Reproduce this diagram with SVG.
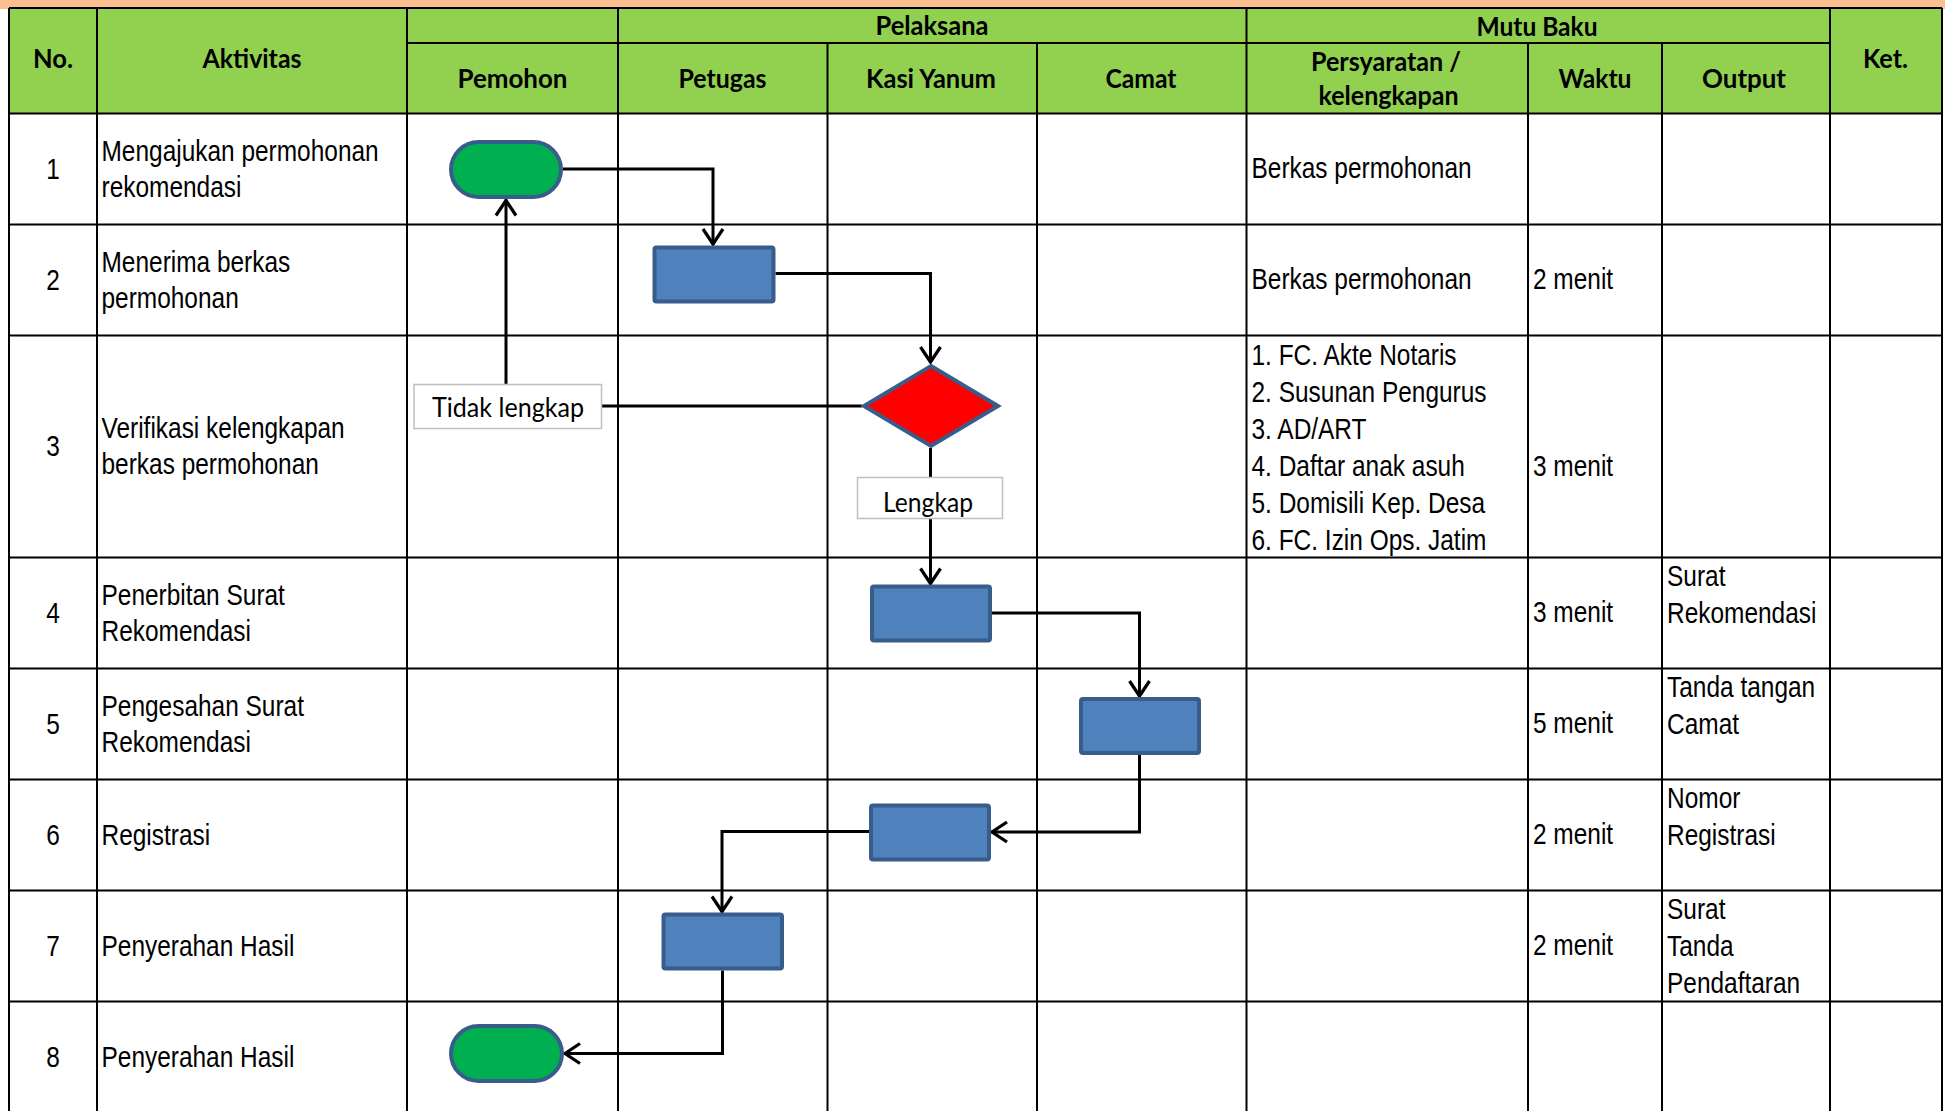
<svg xmlns="http://www.w3.org/2000/svg" width="1945" height="1111" viewBox="0 0 1945 1111">
<style>
.gl{stroke:#000;stroke-width:2;fill:none}
.hdr{font-family:Lato,'Liberation Sans',sans-serif;font-weight:700;font-size:26px;text-anchor:middle;fill:#000}
.t{font-family:'Liberation Sans',Arial,sans-serif;font-size:29px;fill:#000}
.c{text-anchor:middle}
.term{fill:#00B050;stroke:#385D8A;stroke-width:4}
.proc{fill:#4F81BD;stroke:#385D8A;stroke-width:4}
.dec{fill:#FF0000;stroke:#385D8A;stroke-width:4;stroke-linejoin:miter}
.lbl{fill:#fff;stroke:#BFBFBF;stroke-width:1.5}
.lt{font-family:Lato,'Liberation Sans',sans-serif;font-size:27px;text-anchor:middle;fill:#000}
.conn{fill:none;stroke:#000;stroke-width:3}
</style>
<defs>
<marker id="arr" markerUnits="userSpaceOnUse" markerWidth="30" markerHeight="30" refX="0" refY="0" orient="auto" overflow="visible">
<path d="M-16,-10 L-1,0 L-16,10" fill="none" stroke="#000" stroke-width="3.2" stroke-linejoin="miter"/>
</marker>
</defs>
<rect x="0" y="0" width="1945" height="1111" fill="#fff"/>
<rect x="0" y="0" width="1945" height="9" fill="#FAC090"/>
<rect x="9" y="8" width="1933" height="105.5" fill="#92D050"/>

<g id="grid">
<path class="gl" d="M9,8 H1942 M407,43 H1830 M9,113.5 H1942 M9,224.5 H1942 M9,335.5 H1942 M9,557.5 H1942 M9,668.5 H1942 M9,779.5 H1942 M9,890.5 H1942 M9,1001.5 H1942"/>
<path class="gl" d="M9,8 V1111 M97,8 V1111 M407,8 V1111 M618,8 V1111 M1246.5,8 V1111 M1830,8 V1111 M1942,8 V1111 M827.5,43 V1111 M1037,43 V1111 M1528,43 V1111 M1662,43 V1111"/>
</g>

<g id="header">
<text class="hdr" x="53" y="68" textLength="40" lengthAdjust="spacingAndGlyphs">No.</text>
<text class="hdr" x="252" y="68" textLength="99" lengthAdjust="spacingAndGlyphs">Aktivitas</text>
<text class="hdr" x="932" y="35" textLength="113" lengthAdjust="spacingAndGlyphs">Pelaksana</text>
<text class="hdr" x="1537" y="36" textLength="121" lengthAdjust="spacingAndGlyphs">Mutu Baku</text>
<text class="hdr" x="512.5" y="88" textLength="110" lengthAdjust="spacingAndGlyphs">Pemohon</text>
<text class="hdr" x="722.5" y="88" textLength="88" lengthAdjust="spacingAndGlyphs">Petugas</text>
<text class="hdr" x="931" y="88" textLength="130" lengthAdjust="spacingAndGlyphs">Kasi Yanum</text>
<text class="hdr" x="1141" y="88" textLength="71" lengthAdjust="spacingAndGlyphs">Camat</text>
<text class="hdr" x="1386" y="71" textLength="150" lengthAdjust="spacingAndGlyphs">Persyaratan /</text>
<text class="hdr" x="1388.5" y="105" textLength="140" lengthAdjust="spacingAndGlyphs">kelengkapan</text>
<text class="hdr" x="1595" y="88" textLength="73" lengthAdjust="spacingAndGlyphs">Waktu</text>
<text class="hdr" x="1744" y="88" textLength="84" lengthAdjust="spacingAndGlyphs">Output</text>
<text class="hdr" x="1885.5" y="68" textLength="45" lengthAdjust="spacingAndGlyphs">Ket.</text>
</g>

<g id="cells" transform="scale(0.843,1)">
<text class="t c" x="62.9" y="179">1</text>
<text class="t c" x="62.9" y="290">2</text>
<text class="t c" x="62.9" y="456.5">3</text>
<text class="t c" x="62.9" y="623">4</text>
<text class="t c" x="62.9" y="734">5</text>
<text class="t c" x="62.9" y="845">6</text>
<text class="t c" x="62.9" y="956">7</text>
<text class="t c" x="62.9" y="1067">8</text>

<text class="t" x="120.4" y="161">Mengajukan permohonan</text>
<text class="t" x="120.4" y="197">rekomendasi</text>
<text class="t" x="120.4" y="272">Menerima berkas</text>
<text class="t" x="120.4" y="308">permohonan</text>
<text class="t" x="120.4" y="438.5">Verifikasi kelengkapan</text>
<text class="t" x="120.4" y="474.5">berkas permohonan</text>
<text class="t" x="120.4" y="605">Penerbitan Surat</text>
<text class="t" x="120.4" y="641">Rekomendasi</text>
<text class="t" x="120.4" y="716">Pengesahan Surat</text>
<text class="t" x="120.4" y="752">Rekomendasi</text>
<text class="t" x="120.4" y="845">Registrasi</text>
<text class="t" x="120.4" y="956">Penyerahan Hasil</text>
<text class="t" x="120.4" y="1067">Penyerahan Hasil</text>

<text class="t" x="1484.6" y="178">Berkas permohonan</text>
<text class="t" x="1484.6" y="289">Berkas permohonan</text>
<text class="t" x="1484.6" y="365">1. FC. Akte Notaris</text>
<text class="t" x="1484.6" y="402">2. Susunan Pengurus</text>
<text class="t" x="1484.6" y="439">3. AD/ART</text>
<text class="t" x="1484.6" y="476">4. Daftar anak asuh</text>
<text class="t" x="1484.6" y="513">5. Domisili Kep. Desa</text>
<text class="t" x="1484.6" y="550">6. FC. Izin Ops. Jatim</text>

<text class="t" x="1818.5" y="289">2 menit</text>
<text class="t" x="1818.5" y="476.5">3 menit</text>
<text class="t" x="1818.5" y="622.5">3 menit</text>
<text class="t" x="1818.5" y="733.5">5 menit</text>
<text class="t" x="1818.5" y="844.5">2 menit</text>
<text class="t" x="1818.5" y="955.5">2 menit</text>

<text class="t" x="1977.5" y="586.5">Surat</text>
<text class="t" x="1977.5" y="623.5">Rekomendasi</text>
<text class="t" x="1977.5" y="697.5">Tanda tangan</text>
<text class="t" x="1977.5" y="734.5">Camat</text>
<text class="t" x="1977.5" y="808.5">Nomor</text>
<text class="t" x="1977.5" y="845.5">Registrasi</text>
<text class="t" x="1977.5" y="919">Surat</text>
<text class="t" x="1977.5" y="956">Tanda</text>
<text class="t" x="1977.5" y="993">Pendaftaran</text>
</g>

<g id="connectors">
<path class="conn" d="M563,169 H713 V245" marker-end="url(#arr)"/>
<path class="conn" d="M775.5,273.5 H930.5 V363" marker-end="url(#arr)"/>
<path class="conn" d="M862,406 H601.5"/>
<path class="conn" d="M506,384.5 V199.5" marker-end="url(#arr)"/>
<path class="conn" d="M930.5,448 V477.5"/>
<path class="conn" d="M930.5,518.5 V584.5" marker-end="url(#arr)"/>
<path class="conn" d="M992,613 H1139.5 V697" marker-end="url(#arr)"/>
<path class="conn" d="M1139.5,755 V832 H991" marker-end="url(#arr)"/>
<path class="conn" d="M869,831.5 H722 V912.5" marker-end="url(#arr)"/>
<path class="conn" d="M722.5,970.5 V1053.5 H564" marker-end="url(#arr)"/>
</g>

<g id="n1-start"><rect class="term" x="451" y="142" width="110" height="55" rx="27.5"/></g>
<g id="n2-terima"><rect class="proc" x="654.5" y="247.5" width="119" height="54" rx="2"/></g>
<g id="n3-verifikasi"><polygon class="dec" points="931,366 998,406 931,446 864,406"/></g>
<g id="lbl-tidak"><rect class="lbl" x="414" y="384.5" width="187.5" height="44"/><text class="lt" x="508" y="416.5" textLength="152" lengthAdjust="spacingAndGlyphs">Tidak lengkap</text></g>
<g id="lbl-lengkap"><rect class="lbl" x="857.5" y="477.5" width="145" height="41"/><text class="lt" x="928" y="511.5" textLength="90" lengthAdjust="spacingAndGlyphs">Lengkap</text></g>
<g id="n4-terbit"><rect class="proc" x="872" y="586.5" width="118" height="54" rx="2"/></g>
<g id="n5-sah"><rect class="proc" x="1081" y="699" width="118" height="54" rx="2"/></g>
<g id="n6-registrasi"><rect class="proc" x="871" y="805.5" width="118" height="54" rx="2"/></g>
<g id="n7-serah"><rect class="proc" x="663.5" y="914.5" width="118.5" height="54" rx="2"/></g>
<g id="n8-end"><rect class="term" x="451" y="1026" width="111" height="55" rx="27.5"/></g>
</svg>
